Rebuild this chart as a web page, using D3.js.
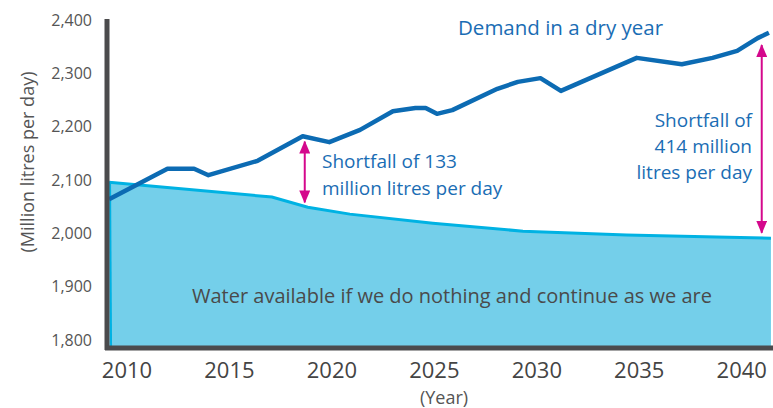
<!DOCTYPE html>
<html>
<head>
<meta charset="utf-8">
<script src="https://cdn.jsdelivr.net/npm/d3@7"></script>
<style>
  body { margin: 0; background: #fff; }
  svg { display: block; font-family: "Open Sans", sans-serif; }
</style>
</head>
<body>
<div id="chart"></div>
<script>
// demand in a dry year (Ml/d)
var demandYears = [2009.15, 2012.0, 2013.3, 2014.0, 2016.4, 2018.6, 2019.9, 2021.4, 2023.0, 2024.1, 2024.6, 2025.15, 2025.9, 2028.1, 2029.1, 2030.2, 2031.2, 2034.9, 2037.1, 2038.6, 2039.8, 2040.8, 2041.35];
var demandValues = [2064, 2121, 2121, 2109, 2136, 2182, 2171, 2194, 2229, 2235, 2235, 2224, 2231, 2271, 2284, 2291, 2267, 2329, 2317, 2329, 2342, 2366, 2376];

// water available if we do nothing
var supplyYears = [2009.15, 2017.1, 2018.85, 2020.9, 2024.95, 2029.35, 2034.4, 2038.8, 2041.45];
var supplyValues = [2096, 2068, 2049, 2036, 2019, 2004, 1997, 1993, 1991];

var yTicks = [1800, 1900, 2000, 2100, 2200, 2300, 2400];
var xTicks = [2010, 2015, 2020, 2025, 2030, 2035, 2040];

// shortfall arrows: year, top, bottom
var arrowYears = [2018.7, 2041.0];
var arrowTops = [2172, 2353];
var arrowBottoms = [2058, 2001];

var width = 773, height = 408;
var m = {left: 107, right: 773, top: 20, bottom: 340, axis: 348};

var x = d3.scaleLinear().domain([2009.05, 2041.55]).range([m.left, m.right]);
var y = d3.scaleLinear().domain([1800, 2400]).range([m.bottom, m.top]);

var svg = d3.select("#chart").append("svg")
  .attr("width", width)
  .attr("height", height);

var supply = supplyYears.map(function(d, i) { return [d, supplyValues[i]]; });
var demand = demandYears.map(function(d, i) { return [d, demandValues[i]]; });

// supply area
svg.append("path")
  .datum(supply)
  .attr("d", d3.area()
    .x(function(d) { return x(d[0]); })
    .y0(m.axis - 2)
    .y1(function(d) { return y(d[1]); }))
  .style("fill", "#74cfea");

svg.append("path")
  .datum(supply)
  .attr("d", d3.line()
    .x(function(d) { return x(d[0]); })
    .y(function(d) { return y(d[1]); }))
  .style("fill", "none")
  .style("stroke", "#00b2e3")
  .style("stroke-width", 3);

// left edge of area
svg.append("line")
  .attr("x1", x(supplyYears[0]) + 1).attr("x2", x(supplyYears[0]) + 2)
  .attr("y1", y(supplyValues[0])).attr("y2", m.axis - 2)
  .style("stroke", "#00b2e3")
  .style("stroke-width", 2);

svg.append("path")
  .datum(demand)
  .attr("d", d3.line()
    .x(function(d) { return x(d[0]); })
    .y(function(d) { return y(d[1]); }))
  .style("fill", "none")
  .style("stroke", "#0c6bb3")
  .style("stroke-width", 4.5)
  .style("stroke-linejoin", "round");

// axes lines
svg.append("line")
  .attr("x1", m.left).attr("x2", m.left)
  .attr("y1", m.top - 1).attr("y2", m.axis + 2)
  .style("stroke", "#4b4b4d").style("stroke-width", 5);
svg.append("line")
  .attr("x1", m.left - 2).attr("x2", m.right)
  .attr("y1", m.axis).attr("y2", m.axis)
  .style("stroke", "#4b4b4d").style("stroke-width", 5);

var yAxis = svg.append("g")
  .attr("transform", "translate(" + m.left + ",0)")
  .call(d3.axisLeft(y).tickValues(yTicks).tickSize(0).tickPadding(15).tickFormat(d3.format(",")));
yAxis.select(".domain").remove();
yAxis.selectAll("text")
  .style("font-family", "Open Sans")
  .style("font-size", "16px")
  .style("fill", "#555");

var xAxis = svg.append("g")
  .attr("transform", "translate(0," + m.axis + ")")
  .call(d3.axisBottom(x).tickValues(xTicks).tickSize(0).tickPadding(14).tickFormat(d3.format("d")));
xAxis.select(".domain").remove();
xAxis.selectAll("text")
  .style("font-family", "Open Sans")
  .style("font-size", "22px")
  .style("fill", "#444");

// axis titles
svg.append("text")
  .attr("transform", "translate(34,162) rotate(-90)")
  .style("text-anchor", "middle")
  .style("font-size", "18px")
  .style("fill", "#555")
  .text("(Million litres per day)");

svg.append("text")
  .attr("x", 444).attr("y", 404)
  .style("text-anchor", "middle")
  .style("font-size", "18px")
  .style("fill", "#555")
  .text("(Year)");

// arrows
svg.append("defs").append("marker")
  .attr("id", "head")
  .attr("viewBox", "0 0 13 11")
  .attr("refX", 12).attr("refY", 5.5)
  .attr("markerWidth", 13).attr("markerHeight", 11)
  .attr("markerUnits", "userSpaceOnUse")
  .attr("orient", "auto-start-reverse")
  .append("path")
  .attr("d", "M0,0 L13,5.5 L0,11 Z")
  .style("fill", "#d4088c");

arrowYears.forEach(function(d, i) {
  svg.append("line")
    .attr("x1", x(d)).attr("x2", x(d))
    .attr("y1", y(arrowTops[i])).attr("y2", y(arrowBottoms[i]))
    .attr("marker-start", "url(#head)")
    .attr("marker-end", "url(#head)")
    .style("stroke", "#d4088c")
    .style("stroke-width", 2);
});

// labels
var blue = "#1a6db4";
svg.append("text")
  .attr("x", 458).attr("y", 35)
  .style("font-size", "20.5px").style("fill", blue)
  .text("Demand in a dry year");

var t1 = svg.append("text")
  .attr("x", 322).attr("y", 168)
  .style("font-size", "19px").style("fill", blue);
t1.append("tspan").attr("x", 322).text("Shortfall of 133");
t1.append("tspan").attr("x", 322).attr("dy", 27).text("million litres per day");

var t2 = svg.append("text")
  .attr("x", 752).attr("y", 127)
  .style("text-anchor", "end")
  .style("font-size", "19px").style("fill", blue);
t2.append("tspan").attr("x", 752).text("Shortfall of");
t2.append("tspan").attr("x", 752).attr("dy", 26).text("414 million");
t2.append("tspan").attr("x", 752).attr("dy", 26).text("litres per day");

svg.append("text")
  .attr("x", 452).attr("y", 303)
  .style("text-anchor", "middle")
  .style("font-size", "20px").style("fill", "#4a4a4a")
  .text("Water available if we do nothing and continue as we are");
</script>
</body>
</html>
